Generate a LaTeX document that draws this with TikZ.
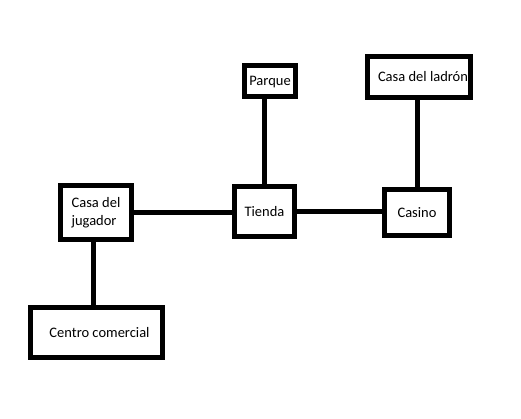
\documentclass[tikz,border=0pt]{standalone}
\usepackage{fontspec}
\setmainfont{Carlito}

\begin{document}
\begin{tikzpicture}[x=1pt, y=-1pt,
  caja/.style={draw, line width=5pt, inner sep=0pt, font=\fontsize{14.5}{17.5}\selectfont},
  linea/.style={line width=5pt}]

\useasboundingbox (0,0) rectangle (521,418);

% Cajas de arriba
\node[caja, minimum width=51pt, minimum height=31pt, text depth=0pt] (parque) at (270,81) {Parque};
\node[caja, minimum width=103pt, minimum height=41pt] (ladron) at (419,77) {\hspace{8pt}Casa del ladrón};

% Fila del medio
\node[caja, minimum width=71pt, minimum height=54pt, align=left] (jugador) at (96,212.5) {Casa del\\jugador};
\node[caja, minimum width=60pt, minimum height=50pt] (tienda) at (264.5,211.5) {Tienda};
\node[caja, minimum width=65pt, minimum height=46pt] (casino) at (417,212.5) {Casino};

% Caja de abajo
\node[caja, minimum width=132pt, minimum height=50pt] (centro) at (96.5,332.5) {\hspace{6pt}Centro comercial};

% Conexiones
\draw[linea] (jugador.east) -- (jugador.east -| tienda.west);
\draw[linea] (tienda.east) -- (tienda.east -| casino.west);
\draw[linea] (tienda.north) -- (tienda.north |- parque.south);
\draw[linea] (casino.north) -- (casino.north |- ladron.south);
\draw[linea] ([xshift=-3pt]jugador.south) -- ([xshift=-3pt]jugador.south |- centro.north);

\end{tikzpicture}
\end{document}
